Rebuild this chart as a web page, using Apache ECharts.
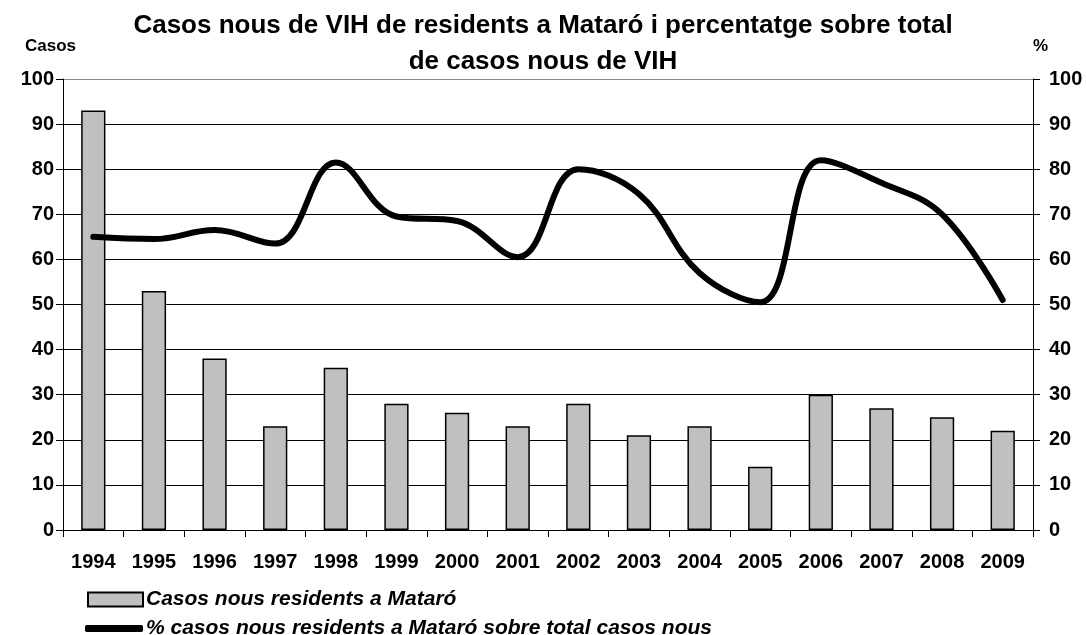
<!DOCTYPE html>
<html>
<head>
<meta charset="utf-8">
<script src="https://cdn.jsdelivr.net/npm/echarts@6/dist/echarts.min.js"></script>
<style>
  html, body { margin: 0; padding: 0; background: #fff; }
  #main { width: 1086px; height: 635px; }
</style>
</head>
<body>
<div id="main"></div>
<script>
var years = ['1994', '1995', '1996', '1997', '1998', '1999', '2000', '2001',
  '2002', '2003', '2004', '2005', '2006', '2007', '2008', '2009'];
// casos nous residents a Mataró
var casos = [93, 53, 38, 23, 36, 28, 26, 23, 28, 21, 23, 14, 30, 27, 25, 22];
// % sobre total casos nous
var percent = [65, 64.5, 66.5, 63.5, 81.5, 69.5, 68.5, 60.5, 80, 74.5, 57, 50.5, 82, 77, 70, 51];

var font = 'Liberation Sans, Arial, sans-serif';
var chart = echarts.init(document.getElementById('main'));

var option = {
  backgroundColor: '#fff',
  animation: false,
  title: {
    text: 'Casos nous de VIH de residents a Mataró i percentatge sobre total\nde casos nous de VIH',
    left: 'center',
    top: 3,
    textStyle: { fontFamily: font, fontSize: 26, fontWeight: 'bold', color: '#000', lineHeight: 36 }
  },
  legend: [{
    data: ['Casos nous residents a Mataró'],
    left: 82, top: 584,
    icon: 'rect',
    itemWidth: 55, itemHeight: 14, itemGap: 4,
    textStyle: { fontFamily: font, fontSize: 21, fontWeight: 'bold', fontStyle: 'italic', color: '#000', padding: [0, 0, 0, -2] }
  }, {
    data: ['% casos nous residents a Mataró sobre total casos nous'],
    left: 80, top: 613,
    icon: 'roundRect',
    itemWidth: 58, itemHeight: 7,
    textStyle: { fontFamily: font, fontSize: 21, fontWeight: 'bold', fontStyle: 'italic', color: '#000', padding: [0, 0, 0, -2] }
  }],
  grid: { left: 63, right: 53, top: 79, bottom: 105 },
  xAxis: {
    type: 'category',
    data: years,
    axisLine: { lineStyle: { color: '#000', width: 1 } },
    axisTick: { show: true, interval: 0, length: 7, lineStyle: { color: '#000' } },
    axisLabel: { interval: 0, margin: 22, fontFamily: font, fontSize: 20, fontWeight: 'bold', color: '#000' }
  },
  yAxis: [{
    type: 'value',
    min: 0, max: 100, interval: 10,
    name: 'Casos',
    nameLocation: 'end',
    nameGap: 24,
    nameTextStyle: { fontFamily: font, fontSize: 17, fontWeight: 'bold', color: '#000', align: 'right', padding: [0, -13, 0, 0] },
    axisLine: { show: true, lineStyle: { color: '#000' } },
    axisTick: { show: true, length: 7, lineStyle: { color: '#000' } },
    axisLabel: { margin: 9, fontFamily: font, fontSize: 20, fontWeight: 'bold', color: '#000' },
    splitLine: {
      show: true,
      lineStyle: {
        color: ['#000', '#000', '#000', '#000', '#000', '#000', '#000', '#000', '#000', '#000', '#888'],
        width: 1
      }
    }
  }, {
    type: 'value',
    min: 0, max: 100, interval: 10,
    name: '%',
    nameLocation: 'end',
    nameGap: 24,
    nameTextStyle: { fontFamily: font, fontSize: 17, fontWeight: 'bold', color: '#000', align: 'left' },
    axisLine: { show: true, lineStyle: { color: '#000' } },
    axisTick: { show: true, length: 7, lineStyle: { color: '#000' } },
    axisLabel: { margin: 16, fontFamily: font, fontSize: 20, fontWeight: 'bold', color: '#000' },
    splitLine: { show: false }
  }],
  series: [{
    name: 'Casos nous residents a Mataró',
    type: 'bar',
    data: casos,
    barWidth: '40%',
    itemStyle: { color: '#c0c0c0', borderColor: '#000', borderWidth: 1.5 }
  }, {
    name: '% casos nous residents a Mataró sobre total casos nous',
    type: 'line',
    yAxisIndex: 1,
    data: percent,
    smooth: 0.4,
    showSymbol: false,
    symbol: 'none',
    itemStyle: { color: '#000' },
    lineStyle: { color: '#000', width: 6, cap: 'round' }
  }]
};

chart.setOption(option);
</script>
</body>
</html>
